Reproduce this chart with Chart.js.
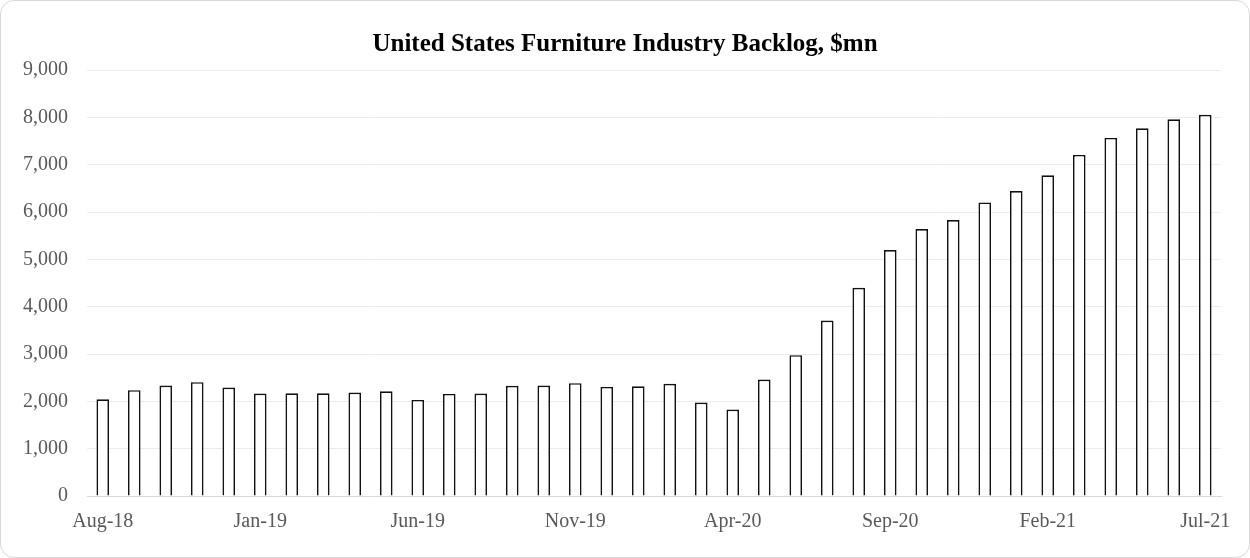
<!DOCTYPE html>
<html>
<head>
<meta charset="utf-8">
<script src="https://cdn.jsdelivr.net/npm/chart.js@4.4.0/dist/chart.umd.min.js"></script>
<style>
  html, body { margin: 0; padding: 0; background: #fff; }
  #wrap { position: relative; width: 1250px; height: 558px; }
  #myChart { position: absolute; left: 0; top: 0; }
  #frame { position: absolute; left: 0; top: 0; right: 0; bottom: 0; border: 1px solid #d9d9d9; border-radius: 14px; pointer-events: none; }
</style>
</head>
<body>
<div id="wrap">
  <canvas id="myChart" width="1250" height="558"></canvas>
  <div id="frame"></div>
</div>
<script>
const months = [
    'Aug-18','Sep-18','Oct-18','Nov-18','Dec-18',
    'Jan-19','Feb-19','Mar-19','Apr-19','May-19','Jun-19','Jul-19','Aug-19','Sep-19','Oct-19','Nov-19','Dec-19',
    'Jan-20','Feb-20','Mar-20','Apr-20','May-20','Jun-20','Jul-20','Aug-20','Sep-20','Oct-20','Nov-20','Dec-20',
    'Jan-21','Feb-21','Mar-21','Apr-21','May-21','Jun-21','Jul-21'
];

// backlog, $mn
const backlog = [
    2045, 2236, 2333, 2405, 2291,
    2164, 2172, 2172, 2185, 2214, 2030, 2157, 2164, 2327, 2333, 2384, 2305,
    2320, 2369, 1973, 1825, 2460, 2976, 3708, 4399, 5197, 5641, 5831, 6203,
    6444, 6775, 7206, 7565, 7769, 7959, 8052
];

const yTicks = [0, 1000, 2000, 3000, 4000, 5000, 6000, 7000, 8000, 9000];

const ctx = document.getElementById('myChart');

// centre the title on the whole canvas, not just between the paddings
const fullWidthTitle = {
    id: 'fullWidthTitle',
    afterLayout(chart) {
        const t = chart.titleBlock;
        if (!t) return;
        t.left = 0;
        t.right = chart.width;
        t.width = chart.width;
    }
};

const chart = new Chart(ctx, {
    type: 'bar',
    data: {
        labels: months,
        datasets: [{
            label: 'Backlog',
            data: backlog,
            backgroundColor: '#ffffff',
            borderColor: '#111111',
            borderWidth: 1.7,
            barPercentage: 0.4,
            categoryPercentage: 1.0
        }]
    },
    options: {
        responsive: false,
        animation: false,
        layout: {
            padding: { left: 4, right: 29, top: 0, bottom: 10 }
        },
        plugins: {
            legend: { display: false },
            tooltip: { enabled: false },
            title: {
                display: true,
                text: 'United States Furniture Industry Backlog, $mn',
                color: '#000',
                font: { family: '"Liberation Serif", "Times New Roman", serif', size: 25, weight: 'bold' },
                padding: { top: 30, bottom: 10 }
            }
        },
        scales: {
            x: {
                grid: { display: false, drawTicks: false },
                border: { display: true, color: '#d9d9d9', width: 1 },
                ticks: {
                    autoSkip: false,
                    maxRotation: 0,
                    padding: 14,
                    color: '#595959',
                    font: { family: '"Liberation Serif", "Times New Roman", serif', size: 20 },
                    callback: function (v, i) { return i % 5 === 0 ? months[i] : ''; }
                }
            },
            y: {
                min: yTicks[0],
                max: yTicks[yTicks.length - 1],
                afterBuildTicks: function (axis) { axis.ticks = yTicks.map(v => ({ value: v })); },
                grid: {
                    drawTicks: false,
                    color: function (c) { return c.tick.value === 0 ? '#d9d9d9' : '#ececec'; },
                    lineWidth: 1
                },
                border: { display: false },
                ticks: {
                    padding: 19,
                    color: '#595959',
                    font: { family: '"Liberation Serif", "Times New Roman", serif', size: 20 },
                    callback: function (v) { return v.toLocaleString('en-US'); }
                }
            }
        }
    },
    plugins: [fullWidthTitle]
});
</script>
</body>
</html>
